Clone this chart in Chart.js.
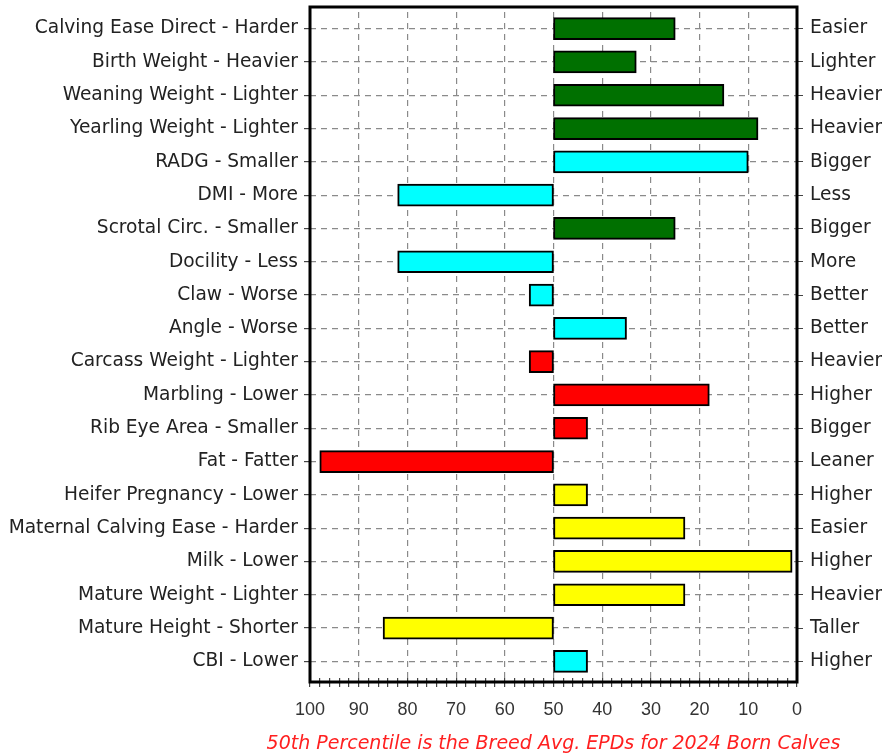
<!DOCTYPE html>
<html>
<head>
<meta charset="utf-8">
<script src="https://cdn.jsdelivr.net/npm/chart.js@4"></script>
<style>
  body { margin: 0; background: #fff; }
  #wrap { width: 882px; height: 756px; position: relative; }
</style>
</head>
<body>
<div id="wrap"><canvas id="epdChart"></canvas></div>
<script>
// traits, lower-end label on the left, upper-end label on the right
const leftLabels = [
  "Calving Ease Direct - Harder", "Birth Weight - Heavier", "Weaning Weight - Lighter",
  "Yearling Weight - Lighter", "RADG - Smaller", "DMI - More", "Scrotal Circ. - Smaller",
  "Docility - Less", "Claw - Worse", "Angle - Worse", "Carcass Weight - Lighter",
  "Marbling - Lower", "Rib Eye Area - Smaller", "Fat - Fatter", "Heifer Pregnancy - Lower",
  "Maternal Calving Ease - Harder", "Milk - Lower", "Mature Weight - Lighter",
  "Mature Height - Shorter", "CBI - Lower"
];
const rightLabels = [
  "Easier", "Lighter", "Heavier", "Heavier", "Bigger", "Less", "Bigger", "More",
  "Better", "Better", "Heavier", "Higher", "Bigger", "Leaner", "Higher", "Easier",
  "Higher", "Heavier", "Taller", "Higher"
];
// percentile rank of each trait (bars run from the 50th percentile)
const percentiles = [25, 33, 15, 8, 10, 82, 25, 82, 55, 35, 55, 18, 43, 98, 43, 23, 1, 23, 85, 43];
const groups = [
  "growth", "growth", "growth", "growth", "other", "other", "growth", "other", "other", "other",
  "carcass", "carcass", "carcass", "carcass", "maternal", "maternal", "maternal", "maternal",
  "maternal", "other"
];
const baseline = 50;
const xTicks = [100, 90, 80, 70, 60, 50, 40, 30, 20, 10, 0];
const footNote = "50th Percentile is the Breed Avg. EPDs for 2024 Born Calves";

const groupColors = { growth: "#007000", other: "#00ffff", carcass: "#ff0000", maternal: "#ffff00" };
const labelFont = { family: "'DejaVu Sans', sans-serif", size: 18.6 };
const numFont = { family: "'Liberation Sans', Arial, sans-serif", size: 18 };

// thick box round the plot (a little taller than the bar bands) + footnote under the plot
const frame = {
  id: "frame",
  afterDatasetsDraw(chart) {
    const a = chart.chartArea, c = chart.ctx;
    c.save();
    c.strokeStyle = "#000";
    c.lineWidth = 3;
    c.strokeRect(a.left, a.top - 5, a.right - a.left, a.bottom - a.top + 9);
    c.restore();
  },
  afterDraw(chart) {
    const a = chart.chartArea, c = chart.ctx;
    c.save();
    c.fillStyle = "#ff2020";
    c.font = "italic 19px 'DejaVu Sans', sans-serif";
    c.textAlign = "center";
    c.textBaseline = "middle";
    c.fillText(footNote, (a.left + a.right) / 2, 744);
    c.restore();
  }
};

// no half-label padding on the category axes
const sideFit = w => s => { s.width = w; s.paddingTop = 0; s.paddingBottom = 0; };

new Chart(document.getElementById("epdChart"), {
  type: "bar",
  data: {
    labels: leftLabels,
    datasets: [{
      data: percentiles.map(v => [baseline, v]),
      backgroundColor: groups.map(g => groupColors[g]),
      borderColor: "#000",
      borderWidth: 2,
      borderSkipped: false,
      barThickness: 22
    }]
  },
  options: {
    indexAxis: "y",
    responsive: true,
    maintainAspectRatio: false,
    animation: false,
    layout: { padding: { top: 12, right: 0, left: 0, bottom: 0 } },
    scales: {
      x: {
        min: 0, max: 100, reverse: true,
        ticks: {
          stepSize: 2, color: "#333", font: numFont, padding: 12, autoSkip: false,
          maxRotation: 0,
          callback: v => (xTicks.includes(v) ? String(v) : "")
        },
        grid: {
          color: ctx => (ctx.tick && ctx.tick.value % 10 === 0 && ctx.tick.value > 0 && ctx.tick.value < 100) ? "#8a8a8a" : "transparent",
          tickColor: "#444", tickLength: 9, lineWidth: 1.2
        },
        border: { display: false, dash: [6, 5] },
        afterFit: s => { s.height = 78; }
      },
      y: {
        position: "left",
        ticks: { color: "#222", font: labelFont, padding: 6 },
        grid: { color: "#8a8a8a", tickColor: "#444", tickLength: 6, lineWidth: 1.2, offset: false },
        border: { display: false, dash: [6, 5] },
        afterFit: sideFit(310)
      },
      y2: {
        type: "category",
        position: "right",
        labels: rightLabels,
        offset: true,
        ticks: { color: "#222", font: labelFont, padding: 7 },
        grid: { drawOnChartArea: false, offset: false, tickColor: "#444", tickLength: 6 },
        border: { display: false },
        afterFit: sideFit(85)
      }
    },
    plugins: {
      legend: { display: false },
      tooltip: { enabled: false }
    }
  },
  plugins: [frame]
});
</script>
</body>
</html>
